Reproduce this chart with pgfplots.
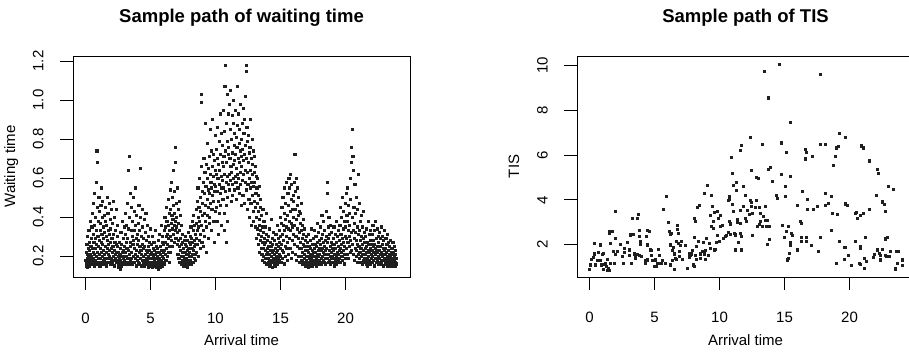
\documentclass[border=0pt]{standalone}
\usepackage{pgfplots}
\pgfplotsset{compat=1.18}
\usepackage{fontspec}
\setmainfont{Liberation Sans}

% Shared look of the two panels (base-graphics style box, outward ticks)
\pgfplotsset{
  rpanel/.style={
    scale only axis,
    width=337pt, height=221pt,
    anchor=south west,
    xmin=-0.96, xmax=24.96,
    xtick={0,5,10,15,20},
    axis line style={line width=0.9pt},
    tick style={line width=0.9pt, black},
    tick align=outside,
    major tick length=13pt,
    xtick pos=left, ytick pos=left,
    /pgf/number format/assume math mode=true,
    tick label style={font=\fontsize{15}{18}\selectfont},
    label style={font=\fontsize{15}{18}\selectfont},
    title style={font=\bfseries\fontsize{18.5}{22}\selectfont,
      at={(axis description cs:0.5,1)}, anchor=base, yshift=27pt},
    xticklabel style={anchor=base, yshift=-33pt},
    yticklabel style={xshift=-16.5pt, rotate=90, anchor=base},
    xlabel style={at={(axis description cs:0.5,0)}, anchor=base, yshift=-69pt},
    ylabel style={at={(axis description cs:-0.172,0.5)}, anchor=base},
  },
  dots/.style={only marks, mark=square*, mark size=1.05pt, color=black!88,
    mark options={draw=none, fill=black!88}},
}

\begin{document}
\begin{tikzpicture}[x=1pt,y=1pt]

% ---------------- waiting time ----------------
\begin{axis}[rpanel, at={(73pt,81pt)},
  ymin=0.092, ymax=1.226,
  ytick={0.2,0.4,0.6,0.8,1.0,1.2},
  yticklabel={\pgfmathprintnumber[fixed,fixed zerofill,precision=1]{\tick}},
  title={Sample path of waiting time},
  xlabel={Arrival time}, ylabel={Waiting time}]
\addplot[dots] coordinates {
(0.02,0.18)(0.04,0.15)(0.05,0.22)(0.07,0.17)(0.09,0.26)(0.11,0.19)(0.12,0.14)(0.14,0.21)(0.16,0.30)(0.18,0.17)(0.19,0.24)(0.21,0.16)(0.23,0.20)(0.25,0.33)(0.26,0.18)(0.28,0.15)(0.30,0.23)(0.32,0.27)(0.33,0.19)(0.35,0.16)(0.37,0.38)(0.39,0.21)(0.40,0.25)(0.42,0.17)(0.44,0.29)(0.46,0.20)(0.48,0.35)
(0.50,0.18)(0.52,0.24)(0.53,0.42)(0.55,0.16)(0.57,0.31)(0.58,0.22)(0.60,0.19)(0.62,0.47)(0.63,0.27)(0.65,0.15)(0.67,0.36)(0.68,0.21)(0.70,0.52)(0.72,0.18)(0.73,0.29)(0.75,0.24)(0.77,0.40)(0.78,0.17)(0.80,0.33)(0.82,0.20)(0.83,0.58)(0.85,0.26)(0.86,0.74)(0.88,0.16)(0.89,0.45)(0.91,0.22)(0.92,0.68)(0.94,0.30)(0.96,0.19)(0.97,0.38)(0.99,0.25)
(1.01,0.17)(1.02,0.50)(1.04,0.28)(1.06,0.21)(1.07,0.43)(1.09,0.15)(1.10,0.33)(1.12,0.24)(1.14,0.37)(1.15,0.19)(1.17,0.46)(1.18,0.27)(1.20,0.22)(1.22,0.55)(1.23,0.17)(1.25,0.31)(1.27,0.40)(1.28,0.20)(1.30,0.26)(1.32,0.48)(1.33,0.16)(1.35,0.35)(1.37,0.23)(1.38,0.29)(1.40,0.18)(1.42,0.41)(1.44,0.21)(1.46,0.32)(1.48,0.19)
(1.50,0.25)(1.52,0.38)(1.53,0.17)(1.55,0.45)(1.57,0.22)(1.58,0.30)(1.60,0.15)(1.62,0.36)(1.64,0.24)(1.65,0.50)(1.67,0.19)(1.69,0.28)(1.71,0.42)(1.72,0.21)(1.74,0.33)(1.76,0.17)(1.78,0.26)(1.80,0.47)(1.81,0.20)(1.83,0.31)(1.85,0.23)(1.87,0.39)(1.88,0.16)(1.90,0.27)(1.92,0.34)(1.94,0.19)(1.96,0.24)(1.98,0.44)
(2.00,0.18)(2.02,0.29)(2.04,0.22)(2.06,0.37)(2.07,0.16)(2.09,0.25)(2.11,0.20)(2.13,0.48)(2.15,0.31)(2.17,0.18)(2.19,0.23)(2.21,0.40)(2.23,0.15)(2.25,0.27)(2.27,0.21)(2.29,0.33)(2.31,0.19)(2.33,0.26)(2.35,0.44)(2.37,0.17)(2.39,0.22)(2.41,0.30)(2.43,0.18)(2.45,0.25)(2.47,0.36)(2.49,0.20)
(2.51,0.16)(2.53,0.22)(2.55,0.14)(2.57,0.19)(2.59,0.27)(2.61,0.17)(2.63,0.21)(2.65,0.13)(2.67,0.24)(2.69,0.18)(2.71,0.32)(2.73,0.15)(2.75,0.20)(2.77,0.26)(2.79,0.17)(2.81,0.38)(2.83,0.22)(2.85,0.16)(2.87,0.19)(2.89,0.29)(2.91,0.23)(2.93,0.17)(2.95,0.35)(2.97,0.20)(2.99,0.25)
(3.01,0.18)(3.03,0.31)(3.05,0.22)(3.07,0.42)(3.09,0.16)(3.11,0.27)(3.13,0.20)(3.15,0.36)(3.17,0.24)(3.19,0.17)(3.21,0.47)(3.23,0.29)(3.25,0.19)(3.27,0.64)(3.29,0.23)(3.31,0.34)(3.33,0.16)(3.35,0.40)(3.37,0.21)(3.39,0.71)(3.41,0.27)(3.43,0.18)(3.45,0.52)(3.47,0.25)(3.49,0.33)
(3.51,0.19)(3.53,0.45)(3.55,0.22)(3.57,0.30)(3.59,0.16)(3.61,0.38)(3.63,0.26)(3.65,0.50)(3.67,0.20)(3.69,0.28)(3.71,0.17)(3.73,0.43)(3.75,0.24)(3.77,0.33)(3.79,0.19)(3.81,0.55)(3.83,0.21)(3.85,0.36)(3.87,0.15)(3.89,0.29)(3.91,0.23)(3.93,0.41)(3.95,0.18)(3.97,0.26)(3.99,0.31)
(4.01,0.20)(4.03,0.37)(4.05,0.17)(4.07,0.28)(4.09,0.46)(4.11,0.22)(4.13,0.16)(4.15,0.33)(4.17,0.25)(4.19,0.65)(4.21,0.19)(4.23,0.40)(4.25,0.23)(4.27,0.15)(4.29,0.30)(4.31,0.21)(4.33,0.44)(4.35,0.18)(4.37,0.26)(4.39,0.35)(4.41,0.20)(4.43,0.16)(4.45,0.29)(4.47,0.24)(4.49,0.39)
(4.51,0.18)(4.53,0.25)(4.55,0.15)(4.57,0.32)(4.59,0.21)(4.61,0.17)(4.63,0.42)(4.65,0.23)(4.67,0.19)(4.69,0.28)(4.71,0.16)(4.73,0.22)(4.75,0.36)(4.77,0.18)(4.79,0.25)(4.81,0.14)(4.83,0.20)(4.85,0.30)(4.87,0.17)(4.89,0.23)(4.91,0.19)(4.93,0.27)(4.95,0.15)(4.97,0.21)(4.99,0.34)
(5.01,0.17)(5.03,0.22)(5.05,0.15)(5.07,0.26)(5.09,0.19)(5.11,0.14)(5.13,0.21)(5.15,0.30)(5.17,0.17)(5.19,0.24)(5.21,0.16)(5.23,0.20)(5.25,0.27)(5.27,0.18)(5.29,0.15)(5.31,0.23)(5.33,0.19)(5.35,0.33)(5.37,0.16)(5.39,0.21)(5.41,0.25)(5.43,0.17)(5.45,0.14)(5.47,0.22)(5.49,0.19)
(5.51,0.24)(5.53,0.16)(5.55,0.20)(5.57,0.13)(5.59,0.28)(5.61,0.18)(5.63,0.22)(5.65,0.15)(5.67,0.31)(5.69,0.19)(5.71,0.17)(5.73,0.25)(5.75,0.21)(5.77,0.14)(5.79,0.36)(5.81,0.18)(5.83,0.23)(5.85,0.16)(5.87,0.27)(5.89,0.20)(5.91,0.15)(5.93,0.30)(5.95,0.22)(5.97,0.17)(5.99,0.26)
(6.01,0.19)(6.03,0.33)(6.05,0.23)(6.07,0.16)(6.09,0.40)(6.11,0.27)(6.13,0.21)(6.15,0.35)(6.17,0.18)(6.19,0.30)(6.21,0.45)(6.23,0.24)(6.25,0.38)(6.27,0.20)(6.29,0.31)(6.31,0.26)(6.33,0.49)(6.35,0.22)(6.37,0.36)(6.39,0.29)(6.41,0.17)(6.43,0.42)(6.45,0.33)(6.47,0.25)(6.49,0.54)
(6.51,0.30)(6.53,0.44)(6.55,0.22)(6.57,0.37)(6.59,0.58)(6.61,0.28)(6.63,0.41)(6.65,0.34)(6.67,0.50)(6.69,0.25)(6.71,0.39)(6.73,0.64)(6.75,0.31)(6.77,0.46)(6.79,0.36)(6.81,0.27)(6.83,0.53)(6.85,0.42)(6.87,0.33)(6.89,0.68)(6.91,0.38)(6.92,0.76)(6.94,0.29)(6.96,0.47)(6.98,0.35)
(7.01,0.40)(7.03,0.26)(7.05,0.55)(7.07,0.32)(7.09,0.21)(7.11,0.44)(7.13,0.28)(7.15,0.37)(7.17,0.19)(7.19,0.48)(7.21,0.25)(7.23,0.33)(7.25,0.17)(7.27,0.41)(7.29,0.23)(7.31,0.29)(7.33,0.20)(7.35,0.36)(7.37,0.16)(7.39,0.26)(7.41,0.31)(7.43,0.18)(7.45,0.22)(7.47,0.27)(7.49,0.15)
(7.51,0.20)(7.53,0.24)(7.55,0.17)(7.57,0.28)(7.59,0.19)(7.61,0.15)(7.63,0.22)(7.65,0.26)(7.67,0.18)(7.69,0.30)(7.71,0.16)(7.73,0.21)(7.75,0.25)(7.77,0.19)(7.79,0.14)(7.81,0.23)(7.83,0.28)(7.85,0.17)(7.87,0.21)(7.89,0.32)(7.91,0.18)(7.93,0.24)(7.95,0.20)(7.97,0.16)(7.99,0.27)
(8.01,0.22)(8.03,0.30)(8.05,0.18)(8.07,0.26)(8.09,0.35)(8.11,0.20)(8.13,0.16)(8.15,0.29)(8.17,0.24)(8.19,0.38)(8.21,0.21)(8.23,0.27)(8.25,0.17)(8.27,0.33)(8.29,0.23)(8.31,0.41)(8.33,0.19)(8.35,0.28)(8.37,0.25)(8.39,0.36)(8.41,0.21)(8.43,0.31)(8.45,0.18)(8.47,0.26)(8.49,0.44)
(8.51,0.29)(8.53,0.37)(8.55,0.22)(8.57,0.48)(8.59,0.33)(8.61,0.26)(8.63,0.55)(8.65,0.40)(8.67,0.20)(8.69,0.35)(8.71,0.45)(8.73,0.28)(8.75,0.60)(8.77,0.38)(8.79,0.24)(8.81,0.50)(8.83,0.31)(8.85,0.43)(8.87,0.66)(8.88,0.99)(8.90,1.03)(8.92,0.36)(8.94,0.27)(8.96,0.53)(8.98,0.41)
(9.01,0.47)(9.03,0.33)(9.05,0.58)(9.07,0.25)(9.09,0.70)(9.11,0.42)(9.13,0.52)(9.15,0.30)(9.17,0.63)(9.19,0.38)(9.21,0.88)(9.23,0.46)(9.25,0.56)(9.27,0.22)(9.29,0.67)(9.31,0.35)(9.33,0.49)(9.35,0.60)(9.37,0.41)(9.39,0.78)(9.41,0.29)(9.43,0.54)(9.45,0.45)(9.47,0.65)(9.49,0.37)
(9.51,0.52)(9.53,0.71)(9.55,0.40)(9.57,0.62)(9.59,0.85)(9.61,0.47)(9.63,0.58)(9.65,0.33)(9.67,0.74)(9.69,0.55)(9.71,0.44)(9.73,0.66)(9.75,0.90)(9.77,0.51)(9.79,0.38)(9.81,0.61)(9.83,0.72)(9.85,0.48)(9.87,0.57)(9.89,0.27)(9.91,0.69)(9.93,0.53)(9.95,0.82)(9.97,0.43)(9.99,0.64)
(10.01,0.56)(10.03,0.75)(10.05,0.45)(10.07,0.62)(10.09,0.38)(10.11,0.70)(10.13,0.53)(10.15,0.86)(10.17,0.60)(10.19,0.48)(10.21,0.67)(10.23,0.31)(10.25,0.79)(10.27,0.57)(10.29,0.42)(10.31,0.64)(10.33,0.93)(10.35,0.52)(10.37,0.72)(10.39,0.46)(10.41,0.61)(10.43,0.83)(10.45,0.55)(10.47,0.36)(10.49,0.68)
(10.51,0.59)(10.53,0.77)(10.55,0.49)(10.57,0.66)(10.59,0.95)(10.61,0.55)(10.63,0.71)(10.65,0.42)(10.67,0.84)(10.69,0.62)(10.70,0.33)(10.71,1.07)(10.73,0.53)(10.75,1.18)(10.77,0.74)(10.79,0.58)(10.81,0.88)(10.83,0.46)(10.84,0.27)(10.85,0.68)(10.87,1.03)(10.89,0.61)(10.91,0.79)(10.92,0.38)(10.93,0.50)(10.95,0.72)(10.97,0.93)(10.99,0.57)
(11.01,0.76)(11.03,0.62)(11.05,0.98)(11.07,0.54)(11.09,0.70)(11.11,0.85)(11.13,0.59)(11.15,1.05)(11.17,0.66)(11.19,0.48)(11.21,0.80)(11.23,0.63)(11.25,0.92)(11.27,0.57)(11.29,0.73)(11.31,0.51)(11.33,0.88)(11.35,0.67)(11.37,1.00)(11.39,0.60)(11.41,0.77)(11.43,0.54)(11.45,0.69)(11.47,0.83)(11.49,0.61)
(11.51,0.72)(11.53,0.95)(11.55,0.58)(11.57,0.81)(11.59,0.65)(11.61,0.49)(11.63,0.76)(11.65,1.07)(11.67,0.62)(11.69,0.87)(11.71,0.55)(11.73,0.70)(11.75,0.93)(11.77,0.60)(11.79,0.78)(11.81,0.52)(11.83,0.68)(11.85,0.85)(11.87,0.63)(11.89,0.74)(11.91,0.98)(11.93,0.57)(11.95,0.71)(11.97,0.46)(11.99,0.80)
(12.01,0.66)(12.03,0.88)(12.05,0.59)(12.07,0.75)(12.09,0.51)(12.11,0.96)(12.13,0.69)(12.15,0.62)(12.17,0.83)(12.19,0.47)(12.21,0.72)(12.23,0.90)(12.25,0.58)(12.27,0.77)(12.29,1.02)(12.31,0.64)(12.33,0.54)(12.35,1.15)(12.36,1.18)(12.38,0.70)(12.40,0.86)(12.42,0.44)(12.44,0.63)(12.46,0.79)(12.48,0.57)
(12.51,0.68)(12.53,0.82)(12.55,0.49)(12.57,0.73)(12.59,0.60)(12.61,0.40)(12.63,0.76)(12.65,0.55)(12.67,0.90)(12.69,0.64)(12.71,0.47)(12.73,0.70)(12.75,0.58)(12.77,0.36)(12.79,0.80)(12.81,0.62)(12.83,0.51)(12.85,0.67)(12.87,0.43)(12.89,0.74)(12.91,0.56)(12.93,0.38)(12.95,0.63)(12.97,0.48)(12.99,0.71)
(13.01,0.58)(13.03,0.45)(13.05,0.66)(13.07,0.35)(13.09,0.52)(13.11,0.61)(13.13,0.40)(13.15,0.29)(13.17,0.55)(13.19,0.47)(13.21,0.34)(13.23,0.60)(13.25,0.26)(13.27,0.43)(13.29,0.51)(13.31,0.31)(13.33,0.39)(13.35,0.56)(13.37,0.22)(13.39,0.36)(13.41,0.45)(13.43,0.28)(13.45,0.33)(13.47,0.49)(13.49,0.24)
(13.51,0.30)(13.53,0.41)(13.55,0.21)(13.57,0.35)(13.59,0.27)(13.61,0.18)(13.63,0.44)(13.65,0.24)(13.67,0.32)(13.69,0.20)(13.71,0.38)(13.73,0.26)(13.75,0.17)(13.77,0.29)(13.79,0.23)(13.81,0.35)(13.83,0.19)(13.85,0.27)(13.87,0.42)(13.89,0.21)(13.91,0.16)(13.93,0.31)(13.95,0.24)(13.97,0.19)(13.99,0.28)
(14.01,0.22)(14.03,0.17)(14.05,0.30)(14.07,0.19)(14.09,0.25)(14.11,0.15)(14.13,0.34)(14.15,0.21)(14.17,0.18)(14.19,0.27)(14.21,0.23)(14.23,0.16)(14.25,0.39)(14.27,0.20)(14.29,0.25)(14.31,0.17)(14.33,0.29)(14.35,0.22)(14.37,0.14)(14.39,0.26)(14.41,0.19)(14.43,0.32)(14.45,0.18)(14.47,0.23)(14.49,0.16)
(14.51,0.21)(14.53,0.28)(14.55,0.17)(14.57,0.24)(14.59,0.19)(14.61,0.15)(14.63,0.31)(14.65,0.22)(14.67,0.18)(14.69,0.26)(14.71,0.20)(14.73,0.36)(14.75,0.16)(14.77,0.23)(14.79,0.29)(14.81,0.19)(14.83,0.25)(14.85,0.17)(14.87,0.33)(14.89,0.21)(14.91,0.27)(14.93,0.18)(14.95,0.40)(14.97,0.24)(14.99,0.30)
(15.01,0.20)(15.03,0.37)(15.05,0.26)(15.07,0.17)(15.09,0.45)(15.11,0.23)(15.13,0.31)(15.15,0.19)(15.17,0.50)(15.19,0.28)(15.21,0.36)(15.23,0.22)(15.25,0.42)(15.27,0.16)(15.29,0.33)(15.31,0.55)(15.33,0.25)(15.35,0.39)(15.37,0.20)(15.39,0.47)(15.41,0.30)(15.43,0.24)(15.45,0.58)(15.47,0.35)(15.49,0.18)
(15.51,0.41)(15.53,0.27)(15.55,0.52)(15.57,0.34)(15.59,0.21)(15.61,0.46)(15.63,0.60)(15.65,0.29)(15.67,0.38)(15.69,0.55)(15.71,0.24)(15.73,0.43)(15.75,0.33)(15.77,0.62)(15.79,0.49)(15.81,0.19)(15.83,0.37)(15.85,0.57)(15.87,0.28)(15.89,0.44)(15.91,0.35)(15.93,0.22)(15.95,0.51)(15.97,0.40)(15.99,0.31)
(16.01,0.48)(16.03,0.26)(16.05,0.58)(16.07,0.36)(16.09,0.72)(16.11,0.21)(16.13,0.44)(16.15,0.53)(16.17,0.30)(16.19,0.39)(16.21,0.18)(16.23,0.60)(16.25,0.34)(16.27,0.25)(16.29,0.46)(16.31,0.55)(16.33,0.29)(16.35,0.41)(16.37,0.20)(16.39,0.50)(16.41,0.32)(16.43,0.24)(16.45,0.43)(16.47,0.17)(16.49,0.37)
(16.51,0.27)(16.53,0.42)(16.55,0.20)(16.57,0.33)(16.59,0.24)(16.61,0.47)(16.63,0.18)(16.65,0.29)(16.67,0.36)(16.69,0.22)(16.71,0.16)(16.73,0.31)(16.75,0.26)(16.77,0.39)(16.79,0.19)(16.81,0.25)(16.83,0.21)(16.85,0.34)(16.87,0.17)(16.89,0.28)(16.91,0.23)(16.93,0.15)(16.95,0.30)(16.97,0.20)(16.99,0.25)
(17.01,0.18)(17.03,0.23)(17.05,0.16)(17.07,0.27)(17.09,0.20)(17.11,0.14)(17.13,0.22)(17.15,0.31)(17.17,0.17)(17.19,0.25)(17.21,0.19)(17.23,0.15)(17.25,0.21)(17.27,0.28)(17.29,0.18)(17.31,0.24)(17.33,0.16)(17.35,0.20)(17.37,0.34)(17.39,0.19)(17.41,0.23)(17.43,0.15)(17.45,0.26)(17.47,0.21)(17.49,0.17)
(17.51,0.22)(17.53,0.29)(17.55,0.18)(17.57,0.24)(17.59,0.16)(17.61,0.33)(17.63,0.20)(17.65,0.26)(17.67,0.17)(17.69,0.22)(17.71,0.30)(17.73,0.19)(17.75,0.25)(17.77,0.15)(17.79,0.21)(17.81,0.37)(17.83,0.18)(17.85,0.27)(17.87,0.23)(17.89,0.16)(17.91,0.20)(17.93,0.32)(17.95,0.24)(17.97,0.18)(17.99,0.28)
(18.01,0.21)(18.03,0.26)(18.05,0.17)(18.07,0.35)(18.09,0.23)(18.11,0.19)(18.13,0.29)(18.15,0.16)(18.17,0.41)(18.19,0.24)(18.21,0.20)(18.23,0.31)(18.25,0.18)(18.27,0.27)(18.29,0.22)(18.31,0.38)(18.33,0.17)(18.35,0.25)(18.37,0.21)(18.39,0.33)(18.41,0.19)(18.43,0.28)(18.45,0.23)(18.47,0.16)(18.49,0.30)
(18.51,0.24)(18.53,0.43)(18.55,0.19)(18.57,0.58)(18.59,0.27)(18.61,0.52)(18.63,0.21)(18.65,0.35)(18.67,0.17)(18.69,0.29)(18.71,0.40)(18.73,0.23)(18.75,0.18)(18.77,0.31)(18.79,0.25)(18.81,0.20)(18.83,0.36)(18.85,0.16)(18.87,0.27)(18.89,0.22)(18.91,0.19)(18.93,0.32)(18.95,0.24)(18.97,0.17)(18.99,0.26)
(19.01,0.20)(19.03,0.29)(19.05,0.17)(19.07,0.23)(19.09,0.35)(19.11,0.19)(19.13,0.26)(19.15,0.15)(19.17,0.21)(19.19,0.31)(19.21,0.18)(19.23,0.24)(19.25,0.20)(19.27,0.38)(19.29,0.16)(19.31,0.27)(19.33,0.22)(19.35,0.19)(19.37,0.30)(19.39,0.17)(19.41,0.25)(19.43,0.21)(19.45,0.33)(19.47,0.18)(19.49,0.23)
(19.51,0.28)(19.53,0.19)(19.55,0.36)(19.57,0.24)(19.59,0.45)(19.61,0.17)(19.63,0.31)(19.65,0.22)(19.67,0.40)(19.69,0.26)(19.71,0.20)(19.73,0.50)(19.75,0.29)(19.77,0.18)(19.79,0.34)(19.81,0.23)(19.83,0.43)(19.85,0.27)(19.87,0.16)(19.89,0.38)(19.91,0.25)(19.93,0.21)(19.95,0.47)(19.97,0.30)(19.99,0.19)
(20.01,0.35)(20.03,0.24)(20.05,0.52)(20.07,0.29)(20.09,0.41)(20.11,0.21)(20.13,0.38)(20.15,0.55)(20.17,0.27)(20.19,0.33)(20.21,0.46)(20.23,0.19)(20.25,0.30)(20.27,0.42)(20.29,0.25)(20.31,0.36)(20.33,0.22)(20.35,0.49)(20.37,0.28)(20.39,0.60)(20.41,0.32)(20.43,0.68)(20.45,0.23)(20.47,0.76)(20.49,0.85)
(20.51,0.40)(20.53,0.26)(20.55,0.71)(20.57,0.33)(20.59,0.21)(20.61,0.64)(20.63,0.45)(20.65,0.29)(20.67,0.37)(20.69,0.18)(20.71,0.57)(20.73,0.24)(20.75,0.32)(20.77,0.42)(20.79,0.20)(20.81,0.28)(20.83,0.50)(20.85,0.23)(20.87,0.35)(20.89,0.17)(20.91,0.26)(20.93,0.44)(20.95,0.21)(20.97,0.31)(20.99,0.62)
(21.01,0.25)(21.03,0.47)(21.05,0.19)(21.07,0.33)(21.09,0.22)(21.11,0.38)(21.13,0.17)(21.15,0.28)(21.17,0.24)(21.19,0.41)(21.21,0.20)(21.23,0.30)(21.25,0.16)(21.27,0.26)(21.29,0.35)(21.31,0.21)(21.33,0.18)(21.35,0.29)(21.37,0.23)(21.39,0.43)(21.41,0.19)(21.43,0.27)(21.45,0.32)(21.47,0.17)(21.49,0.24)
(21.51,0.21)(21.53,0.30)(21.55,0.18)(21.57,0.25)(21.59,0.16)(21.61,0.34)(21.63,0.22)(21.65,0.19)(21.67,0.27)(21.69,0.15)(21.71,0.23)(21.73,0.38)(21.75,0.20)(21.77,0.26)(21.79,0.17)(21.81,0.31)(21.83,0.22)(21.85,0.18)(21.87,0.28)(21.89,0.24)(21.91,0.16)(21.93,0.33)(21.95,0.21)(21.97,0.19)(21.99,0.26)
(22.01,0.23)(22.03,0.17)(22.05,0.31)(22.07,0.20)(22.09,0.36)(22.11,0.25)(22.13,0.18)(22.15,0.28)(22.17,0.22)(22.19,0.15)(22.21,0.33)(22.23,0.26)(22.25,0.19)(22.27,0.24)(22.29,0.38)(22.31,0.21)(22.33,0.17)(22.35,0.29)(22.37,0.23)(22.39,0.19)(22.41,0.34)(22.43,0.25)(22.45,0.18)(22.47,0.22)(22.49,0.30)
(22.51,0.20)(22.53,0.27)(22.55,0.16)(22.57,0.23)(22.59,0.32)(22.61,0.19)(22.63,0.25)(22.65,0.17)(22.67,0.21)(22.69,0.29)(22.71,0.18)(22.73,0.35)(22.75,0.22)(22.77,0.16)(22.79,0.26)(22.81,0.20)(22.83,0.30)(22.85,0.18)(22.87,0.24)(22.89,0.15)(22.91,0.21)(22.93,0.28)(22.95,0.19)(22.97,0.23)(22.99,0.33)
(23.01,0.18)(23.03,0.24)(23.05,0.16)(23.07,0.21)(23.09,0.29)(23.11,0.17)(23.13,0.22)(23.15,0.19)(23.17,0.26)(23.19,0.15)(23.21,0.20)(23.23,0.31)(23.25,0.18)(23.27,0.23)(23.29,0.16)(23.31,0.27)(23.33,0.19)(23.35,0.21)(23.37,0.17)(23.39,0.25)(23.41,0.20)(23.43,0.15)(23.45,0.28)(23.47,0.18)(23.49,0.22)
(23.51,0.19)(23.53,0.16)(23.55,0.24)(23.57,0.18)(23.59,0.21)(23.61,0.15)(23.63,0.27)(23.65,0.19)(23.67,0.17)(23.69,0.22)(23.71,0.16)(23.73,0.20)(23.75,0.25)(23.77,0.18)(23.79,0.15)(23.81,0.21)(23.83,0.17)(23.85,0.23)(23.87,0.19)(23.89,0.16)
};
\end{axis}

% ---------------- time in system ----------------
\begin{axis}[rpanel, at={(577pt,81pt)},
  ymin=0.56, ymax=10.42,
  ytick={2,4,6,8,10},
  title={Sample path of TIS},
  xlabel={Arrival time}, ylabel={TIS}]
\addplot[dots] coordinates {
(0.00,0.89)(0.08,1.11)(0.15,1.36)(0.26,1.45)(0.31,1.44)(0.33,1.60)(0.38,2.07)(0.46,1.11)(0.59,1.31)(0.67,1.67)(0.74,1.30)(0.79,2.00)(0.85,1.31)(0.92,1.11)(0.95,1.59)(1.03,1.63)(1.08,0.89)(1.08,1.15)(1.18,1.19)(1.28,1.04)(1.33,0.85)(1.36,1.36)(1.41,0.96)(1.49,2.52)(1.51,0.85)(1.54,2.62)(1.56,2.07)(1.62,1.19)(1.74,2.59)(1.79,1.70)(1.87,1.19)(1.95,2.30)(2.00,3.48)(2.00,1.59)(2.13,1.70)
(2.39,2.04)(2.51,1.48)(2.59,1.19)(2.64,1.85)(2.69,1.67)(2.90,2.10)(3.03,1.55)(3.08,1.78)(3.15,2.48)(3.15,2.41)(3.23,1.19)(3.28,3.18)(3.33,2.48)(3.41,1.60)(3.54,1.41)(3.54,1.52)(3.64,3.18)(3.67,1.59)(3.72,3.37)(3.79,2.64)(3.79,1.55)(3.85,2.39)(3.92,2.04)(3.92,2.15)(4.00,1.50)
(4.31,1.19)(4.31,1.30)(4.38,2.37)(4.41,2.64)(4.44,2.00)(4.44,1.33)(4.62,2.59)(4.69,1.78)(4.74,1.74)(4.77,1.55)(4.82,1.31)(4.95,1.04)(5.03,1.37)(5.08,1.31)(5.13,1.04)(5.21,1.18)(5.28,1.81)(5.33,1.19)(5.38,1.55)(5.54,1.19)(5.59,1.29)(5.67,3.60)(5.85,1.16)(5.90,4.15)
(6.05,2.99)(6.10,2.59)(6.18,1.11)(6.18,2.48)(6.23,2.00)(6.31,2.52)(6.36,1.75)(6.36,1.30)(6.41,1.88)(6.49,1.60)(6.51,0.89)(6.56,1.41)(6.67,2.15)(6.69,1.37)(6.74,2.86)(6.77,2.70)(6.82,2.50)(6.82,2.07)(6.87,1.48)(6.92,1.70)(7.00,1.96)(7.08,2.15)(7.13,1.36)(7.38,1.96)(7.51,0.96)(7.64,1.60)(7.64,1.44)(7.77,1.55)(7.85,1.60)(7.90,1.74)(7.97,1.11)
(8.03,3.18)(8.03,1.04)(8.03,2.33)(8.10,3.03)(8.15,1.55)(8.23,1.93)(8.23,1.37)(8.28,3.66)(8.33,2.15)(8.41,3.77)(8.49,1.60)(8.54,1.41)(8.67,1.70)(8.74,2.10)(8.79,4.30)(8.85,1.60)(8.90,1.74)(8.92,1.36)(8.99,2.30)(9.05,4.67)(9.10,1.55)(9.18,2.07)(9.26,1.85)(9.28,3.33)(9.36,4.22)(9.38,2.81)(9.46,3.70)(9.51,3.03)(9.54,2.74)(9.56,3.44)(9.62,1.78)(9.69,1.81)(9.77,2.10)(9.82,3.50)(9.82,2.44)(9.87,3.18)(9.95,2.15)
(10.03,3.33)(10.08,2.81)(10.21,2.89)(10.30,2.30)(10.46,2.37)(10.54,2.44)(10.64,2.55)(10.69,4.00)(10.72,4.15)(10.74,4.04)(10.77,3.03)(10.80,2.96)(10.85,2.93)(10.85,2.48)(10.90,5.90)(10.97,5.21)(10.97,3.81)(11.05,3.48)(11.10,2.52)(11.08,4.67)(11.18,2.48)(11.21,2.44)(11.23,1.78)(11.26,4.44)(11.31,4.77)(11.36,3.14)(11.36,3.00)(11.44,2.10)(11.56,6.22)(11.56,3.56)(11.56,2.52)(11.62,2.96)(11.67,2.37)(11.69,6.44)(11.69,1.78)(11.82,4.62)(11.82,3.70)
(12.00,4.22)(12.00,3.18)(12.08,3.04)(12.13,3.55)(12.26,3.37)(12.38,6.81)(12.38,4.00)(12.44,5.33)(12.44,3.88)(12.46,3.73)(12.51,3.41)(12.51,2.44)(12.77,3.67)(12.82,4.00)(12.85,5.00)(12.90,2.84)(12.97,4.96)(13.03,2.92)(13.05,3.66)(13.15,3.41)(13.15,3.04)(13.28,6.49)(13.28,2.81)(13.36,3.26)(13.46,9.75)(13.49,3.11)(13.54,3.70)(13.62,2.84)(13.67,3.11)(13.67,2.04)(13.72,8.56)(13.72,5.36)(13.85,2.81)(13.85,2.26)(13.92,5.45)
(14.05,4.82)(14.38,4.22)(14.44,4.07)(14.62,10.04)(14.74,6.55)(14.74,5.15)(14.82,2.89)(15.00,2.33)(15.08,4.62)(15.08,4.18)(15.15,6.11)(15.15,2.59)(15.21,1.33)(15.28,2.81)(15.31,1.41)(15.33,1.63)(15.41,7.45)(15.41,5.04)(15.41,2.10)(15.46,2.00)(15.54,2.52)(15.59,2.44)(15.97,3.78)(15.97,1.78)
(16.23,3.04)(16.31,2.96)(16.31,2.33)(16.31,2.15)(16.36,4.40)(16.62,6.28)(16.62,5.84)(16.64,2.33)(16.64,2.15)(16.69,6.11)(16.74,4.03)(16.74,3.58)(17.05,1.97)(17.13,5.96)(17.18,3.60)(17.51,3.70)(17.56,1.70)(17.77,9.60)(17.77,6.49)(17.77,2.33)
(18.15,6.49)(18.15,4.30)(18.15,3.78)(18.36,3.85)(18.59,2.64)(18.62,4.18)(18.67,3.40)(18.74,5.56)(18.92,5.93)(19.00,6.33)(19.00,1.19)(19.05,3.35)(19.10,6.40)(19.23,6.99)(19.23,2.14)(19.56,1.88)(19.56,1.36)(19.69,6.81)(19.69,3.83)(19.69,1.88)(19.82,3.76)(19.90,1.52)
(20.13,1.07)(20.44,3.40)(20.46,2.14)(20.51,3.46)(20.62,3.18)(20.72,1.19)(20.79,1.84)(20.85,3.30)(20.85,1.93)(20.85,1.15)(20.92,6.42)(21.05,6.33)(21.08,3.40)(21.15,1.38)(21.15,0.96)(21.23,2.33)(21.28,1.26)(21.54,5.75)(21.54,3.58)(21.82,1.44)(21.92,1.56)
(22.03,4.20)(22.13,5.36)(22.13,1.78)(22.21,5.21)(22.26,1.63)(22.33,1.33)(22.38,1.52)(22.51,1.82)(22.54,3.92)(22.67,3.80)(22.72,3.50)(22.77,2.27)(22.77,1.55)(22.85,1.48)(22.90,2.33)(22.97,4.62)(23.08,1.48)(23.10,1.73)(23.36,4.47)(23.54,0.96)(23.54,0.89)(23.62,1.73)(23.67,1.19)(23.72,1.73)(24.05,1.33)(24.05,1.07)
};
\end{axis}

\pgfresetboundingbox
\path[use as bounding box] (0pt,0pt) rectangle (909pt,358pt);
\end{tikzpicture}
\end{document}
